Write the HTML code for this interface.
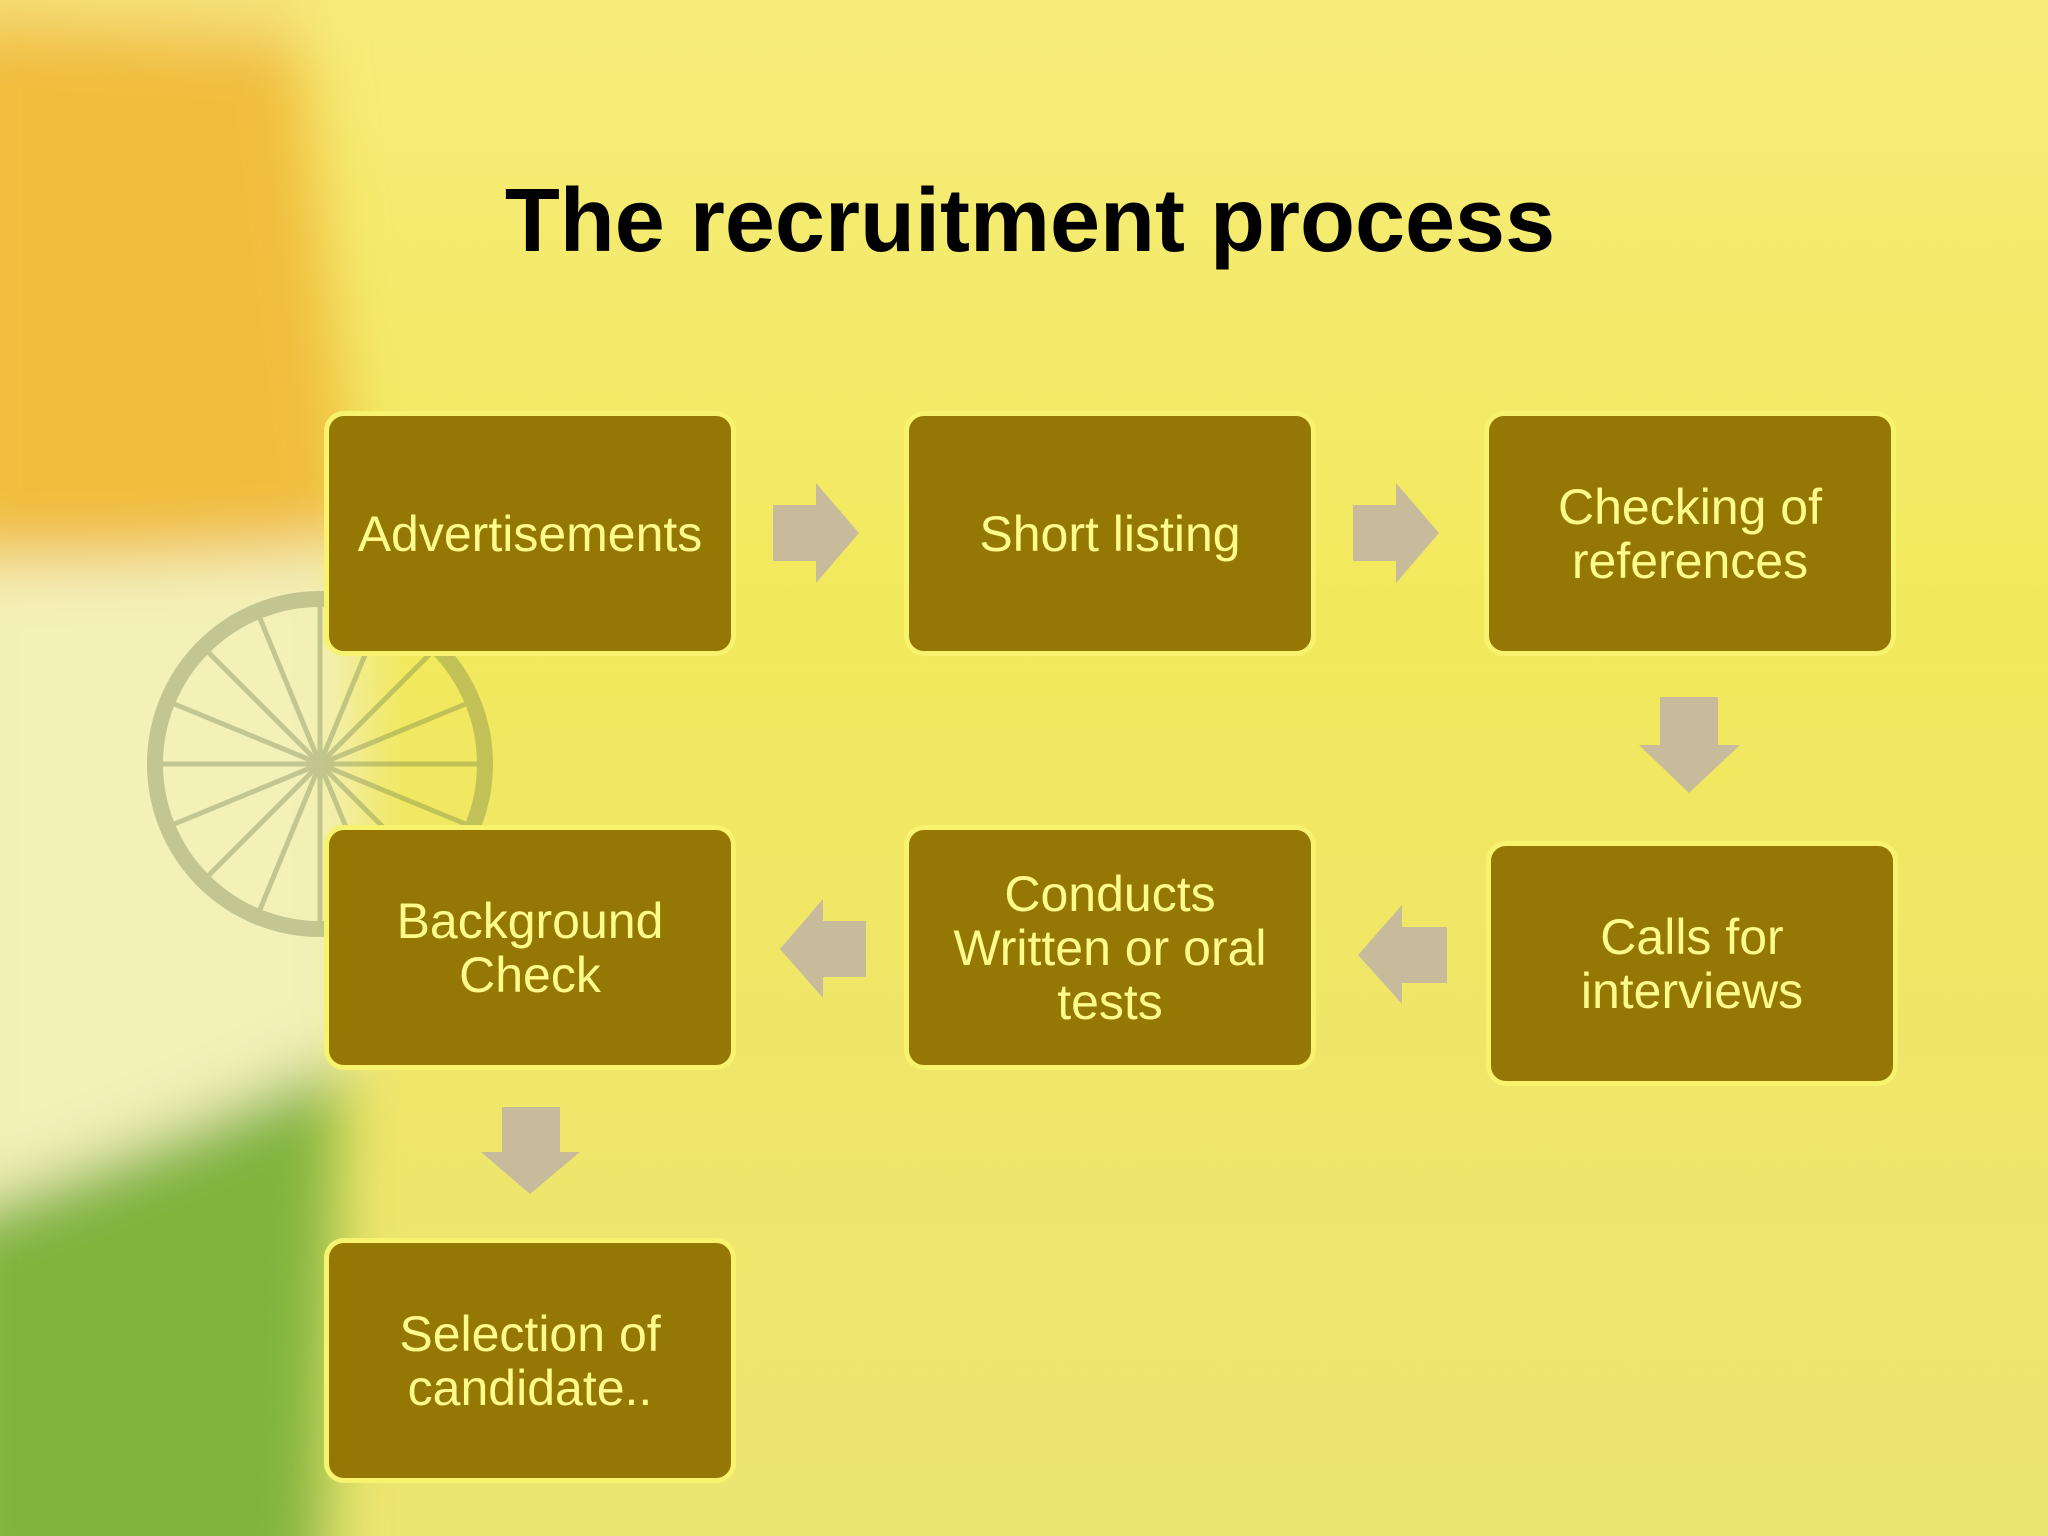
<!DOCTYPE html>
<html><head><meta charset="utf-8"><style>
html,body{margin:0;padding:0}
body{width:2048px;height:1536px;position:relative;overflow:hidden;font-family:"Liberation Sans",sans-serif;
background:linear-gradient(180deg,#f7ec7a 0%,#f1e95c 40%,#efe66a 70%,#ede572 100%);}
.box{position:absolute;width:402px;height:235px;background:#957705;border:5px solid #f7f36e;border-radius:20px;
display:flex;align-items:center;justify-content:center;text-align:center;color:#fdfb8a;font-size:50px;line-height:54px;box-sizing:content-box}
h1{position:absolute;left:0;width:2060px;top:170px;margin:0;text-align:center;font-size:90px;font-weight:bold;color:#000}
svg{position:absolute;left:0;top:0}
</style></head><body>
<svg width="2048" height="1536">
<defs><filter id="b"><feGaussianBlur stdDeviation="30"/></filter></defs>
<g filter="url(#b)">
<path d="M-50,20 L300,40 L360,540 Q250,560 -50,560 Z" fill="#f1bd3c"/>
<path d="M-50,560 Q250,560 360,540 L360,1060 Q200,1130 -50,1220 Z" fill="#f3f0b8"/>
<path d="M-50,1220 Q200,1130 340,1060 L320,1600 L-50,1600 Z" fill="#80b43c"/>
<path d="M-50,-50 L300,-50 L300,40 L-50,20 Z" fill="#f5e17a"/>
</g>
<g opacity="0.35" stroke="#6b7a4a" fill="none">
<circle cx="320" cy="764" r="165" stroke-width="16"/>
<g stroke-width="5">
<line x1="160" y1="764" x2="480" y2="764"/><line x1="320" y1="604" x2="320" y2="924"/>
<line x1="207" y1="651" x2="433" y2="877"/><line x1="433" y1="651" x2="207" y2="877"/>
<line x1="172" y1="703" x2="468" y2="825"/><line x1="172" y1="825" x2="468" y2="703"/>
<line x1="259" y1="616" x2="381" y2="912"/><line x1="381" y1="616" x2="259" y2="912"/>
</g></g>
<g fill="#c8bb9c">
<polygon points="773,505 816,505 816,483 859,533 816,583 816,561 773,561"/>
<polygon points="1353,505 1396,505 1396,483 1439,533 1396,583 1396,561 1353,561"/>
<polygon points="1660,697 1718,697 1718,745 1740,745 1689,793 1639,745 1660,745"/>
<polygon points="866,921 823,921 823,899 780,949 823,998 823,977 866,977"/>
<polygon points="1447,927 1402,927 1402,905 1358,955 1402,1004 1402,983 1447,983"/>
<polygon points="502,1107 560,1107 560,1152 580,1152 530,1194 481,1152 502,1152"/>
</g>
</svg>
<h1>The recruitment process</h1>
<div class="box" style="left:324px;top:411px">Advertisements</div>
<div class="box" style="left:904px;top:411px">Short listing</div>
<div class="box" style="left:1484px;top:411px">Checking of<br>references</div>
<div class="box" style="left:1486px;top:841px">Calls for<br>interviews</div>
<div class="box" style="left:904px;top:825px">Conducts<br>Written or oral<br>tests</div>
<div class="box" style="left:324px;top:825px">Background<br>Check</div>
<div class="box" style="left:324px;top:1238px">Selection of<br>candidate..</div>
</body></html>
